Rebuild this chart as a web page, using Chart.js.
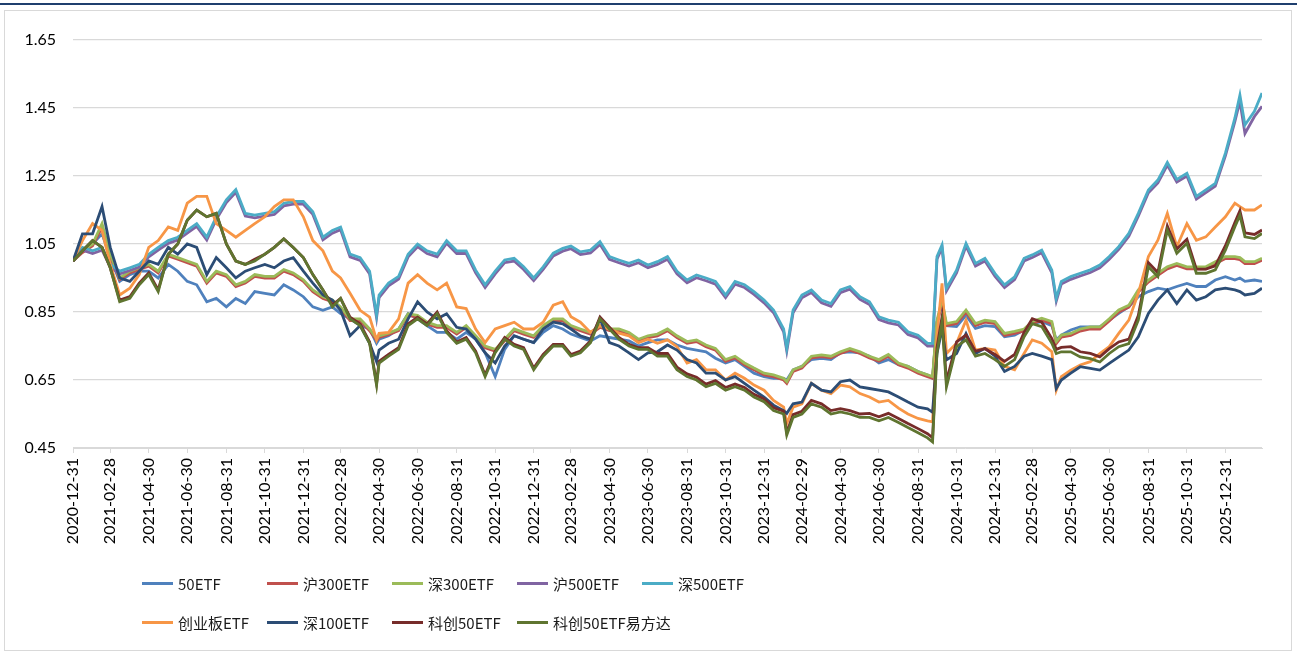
<!DOCTYPE html>
<html><head><meta charset="utf-8">
<script src="https://cdn.jsdelivr.net/npm/chart.js@4.4.0/dist/chart.umd.min.js"></script>
<style>
html,body{margin:0;padding:0;background:#fff;}
#wrap{position:relative;width:1297px;height:655px;overflow:hidden;}
#topline{position:absolute;left:0;top:3px;width:1297px;height:2px;background:#1f3f6e;}
#frame{position:absolute;left:4px;top:10px;width:1286px;height:639px;border:1.5px solid #d9d9d9;}
canvas{position:absolute;left:0;top:0;}
.leg{position:absolute;height:20px;display:flex;align-items:center;font:15px 'Noto Sans CJK SC','Noto Sans',sans-serif;color:#1a1a1a;white-space:nowrap;}
.sw{display:inline-block;width:31px;height:3px;margin-right:5px;}
</style></head>
<body>
<div id="wrap">
<div id="topline"></div>
<div id="frame"></div>
<canvas id="c" width="1297" height="655"></canvas>
<div id="legend"></div>
</div>
<script>
const dates = [
'2020-12-31',
'2021-01-15','2021-01-31','2021-02-15','2021-02-28','2021-03-15','2021-03-31','2021-04-15','2021-04-30','2021-05-15','2021-05-31','2021-06-15','2021-06-30','2021-07-15','2021-07-31','2021-08-15','2021-08-31','2021-09-15','2021-09-30','2021-10-15','2021-10-31','2021-11-15','2021-11-30','2021-12-15','2021-12-31',
'2022-01-15','2022-01-31','2022-02-15','2022-02-28','2022-03-15','2022-03-31','2022-04-15','2022-04-26','2022-04-30','2022-05-15','2022-05-31','2022-06-15','2022-06-30','2022-07-15','2022-07-31','2022-08-15','2022-08-31','2022-09-15','2022-09-30','2022-10-15','2022-10-31','2022-11-15','2022-11-30','2022-12-15','2022-12-31',
'2023-01-15','2023-01-31','2023-02-15','2023-02-28','2023-03-15','2023-03-31','2023-04-15','2023-04-30','2023-05-15','2023-05-31','2023-06-15','2023-06-30','2023-07-15','2023-07-31','2023-08-15','2023-08-31','2023-09-15','2023-09-30','2023-10-15','2023-10-31','2023-11-15','2023-11-30','2023-12-15','2023-12-31',
'2024-01-15','2024-01-31','2024-02-05','2024-02-15','2024-02-29','2024-03-15','2024-03-31','2024-04-15','2024-04-30','2024-05-15','2024-05-31','2024-06-15','2024-06-30','2024-07-15','2024-07-31','2024-08-15','2024-08-31','2024-09-15','2024-09-23','2024-09-30','2024-10-08','2024-10-15','2024-10-31','2024-11-15','2024-11-30','2024-12-15','2024-12-31',
'2025-01-15','2025-01-31','2025-02-15','2025-02-28','2025-03-15','2025-03-31','2025-04-07','2025-04-15','2025-04-30','2025-05-15','2025-05-31','2025-06-15','2025-06-30','2025-07-15','2025-07-31','2025-08-15','2025-08-31','2025-09-15','2025-09-30','2025-10-15','2025-10-31','2025-11-15','2025-11-30','2025-12-15','2025-12-31',
'2026-01-15','2026-01-23','2026-01-31','2026-02-15','2026-02-27'
];

const tickLabels = ['2020-12-31','2021-02-28','2021-04-30','2021-06-30','2021-08-31','2021-10-31','2021-12-31',
'2022-02-28','2022-04-30','2022-06-30','2022-08-31','2022-10-31','2022-12-31',
'2023-02-28','2023-04-30','2023-06-30','2023-08-31','2023-10-31','2023-12-31',
'2024-02-29','2024-04-30','2024-06-30','2024-08-31','2024-10-31','2024-12-31',
'2025-02-28','2025-04-30','2025-06-30','2025-08-31','2025-10-31','2025-12-31'];

const yTicks = [0.45, 0.65, 0.85, 1.05, 1.25, 1.45, 1.65];

const seriesNames = ['50ETF','沪300ETF','深300ETF','沪500ETF','深500ETF','创业板ETF','深100ETF','科创50ETF','科创50ETF易方达'];
const seriesColors = ['#4f81bd','#c0504d','#9bbb59','#8064a2','#4bacc6','#f79646','#2c4d75','#772c2a','#5f7530'];

const etf50 = [1.00,
1.03,1.05,1.08,1.01,0.94,0.96,0.97,0.97,0.95,0.99,0.97,0.94,0.93,0.88,0.89,0.865,0.89,0.875,0.91,0.905,0.90,0.93,0.915,0.895,
0.865,0.855,0.865,0.845,0.83,0.81,0.80,0.758,0.77,0.78,0.80,0.845,0.83,0.81,0.79,0.79,0.77,0.79,0.77,0.73,0.66,0.74,0.78,0.77,0.76,
0.79,0.81,0.80,0.785,0.775,0.765,0.78,0.775,0.77,0.765,0.75,0.76,0.768,0.768,0.753,0.743,0.738,0.733,0.714,0.70,0.71,0.69,0.67,0.66,
0.655,0.655,0.65,0.68,0.69,0.71,0.714,0.71,0.73,0.733,0.73,0.72,0.70,0.71,0.695,0.69,0.675,0.665,0.655,0.82,0.87,0.81,0.807,0.84,0.802,0.81,0.807,
0.777,0.782,0.797,0.816,0.822,0.81,0.768,0.782,0.797,0.806,0.806,0.806,0.826,0.846,0.866,0.895,0.91,0.92,0.915,0.925,0.934,0.925,0.925,0.944,0.954,
0.944,0.95,0.94,0.944,0.94];

const hu300 = [1.00,
1.025,1.045,1.10,1.015,0.945,0.965,0.975,0.985,0.965,1.015,1.005,0.995,0.985,0.935,0.965,0.955,0.925,0.935,0.955,0.95,0.95,0.97,0.96,0.94,
0.91,0.89,0.88,0.86,0.825,0.825,0.795,0.767,0.775,0.783,0.795,0.84,0.835,0.815,0.805,0.805,0.785,0.805,0.775,0.745,0.735,0.765,0.795,0.785,0.775,
0.805,0.825,0.825,0.805,0.795,0.785,0.805,0.795,0.795,0.785,0.765,0.775,0.78,0.795,0.775,0.758,0.763,0.748,0.738,0.705,0.715,0.695,0.68,0.665,
0.66,0.65,0.64,0.675,0.685,0.715,0.719,0.715,0.728,0.738,0.728,0.715,0.705,0.72,0.695,0.685,0.67,0.66,0.655,0.82,0.878,0.81,0.816,0.85,0.81,0.82,0.816,
0.781,0.787,0.794,0.816,0.826,0.816,0.757,0.776,0.781,0.794,0.80,0.80,0.824,0.85,0.864,0.909,0.938,0.958,0.977,0.987,0.977,0.977,0.977,0.992,1.007,
1.007,1.004,0.992,0.992,1.002];

const shen300 = [1.00,
1.03,1.05,1.11,1.02,0.95,0.97,0.98,0.99,0.97,1.02,1.01,1.00,0.99,0.94,0.97,0.96,0.93,0.94,0.96,0.955,0.955,0.975,0.965,0.945,
0.915,0.895,0.885,0.865,0.83,0.83,0.80,0.772,0.78,0.788,0.80,0.845,0.84,0.82,0.81,0.81,0.79,0.81,0.78,0.75,0.74,0.77,0.80,0.79,0.78,
0.81,0.83,0.83,0.81,0.80,0.79,0.81,0.80,0.80,0.79,0.77,0.78,0.785,0.80,0.78,0.763,0.768,0.753,0.743,0.71,0.72,0.70,0.685,0.67,
0.665,0.655,0.645,0.68,0.69,0.72,0.724,0.72,0.733,0.743,0.733,0.72,0.71,0.725,0.70,0.69,0.675,0.665,0.66,0.826,0.885,0.816,0.822,0.856,0.816,0.826,0.822,
0.787,0.793,0.80,0.822,0.832,0.822,0.763,0.782,0.787,0.80,0.806,0.806,0.83,0.856,0.87,0.915,0.944,0.964,0.983,0.993,0.983,0.983,0.983,0.998,1.013,
1.013,1.01,0.998,0.998,1.008];

const hu500 = [1.00,
1.032,1.022,1.032,0.982,0.962,0.972,0.982,1.012,1.032,1.052,1.062,1.082,1.102,1.062,1.122,1.172,1.202,1.132,1.127,1.132,1.137,1.162,1.167,1.167,
1.137,1.062,1.082,1.092,1.012,1.002,0.962,0.833,0.892,0.927,0.947,1.012,1.042,1.022,1.012,1.052,1.022,1.022,0.965,0.922,0.962,0.995,1.00,0.975,0.942,
0.975,1.015,1.029,1.036,1.019,1.024,1.049,1.005,0.995,0.985,0.995,0.98,0.99,1.005,0.962,0.936,0.951,0.942,0.932,0.892,0.932,0.922,0.902,0.877,
0.848,0.792,0.735,0.848,0.892,0.907,0.877,0.867,0.907,0.917,0.887,0.872,0.828,0.818,0.812,0.784,0.774,0.75,0.75,1.005,1.039,0.912,0.965,1.044,0.985,1.00,0.955,
0.922,0.945,1.00,1.01,1.024,0.965,0.882,0.932,0.946,0.956,0.966,0.98,1.005,1.034,1.073,1.132,1.201,1.23,1.282,1.232,1.25,1.182,1.201,1.22,1.309,
1.41,1.47,1.375,1.425,1.455];

const shen500 = [1.00,
1.04,1.03,1.04,0.99,0.97,0.98,0.99,1.02,1.04,1.06,1.07,1.09,1.11,1.07,1.13,1.18,1.21,1.14,1.135,1.14,1.145,1.17,1.175,1.175,
1.145,1.07,1.09,1.10,1.02,1.01,0.97,0.841,0.90,0.935,0.955,1.02,1.05,1.03,1.02,1.06,1.03,1.03,0.973,0.93,0.97,1.003,1.008,0.983,0.95,
0.983,1.023,1.037,1.044,1.027,1.032,1.057,1.013,1.003,0.993,1.003,0.988,0.998,1.013,0.97,0.944,0.959,0.95,0.94,0.90,0.94,0.93,0.91,0.885,
0.856,0.80,0.743,0.856,0.90,0.915,0.885,0.875,0.915,0.925,0.895,0.88,0.836,0.826,0.82,0.792,0.782,0.758,0.758,1.013,1.047,0.92,0.973,1.052,0.993,1.008,0.963,
0.93,0.953,1.008,1.018,1.032,0.973,0.89,0.94,0.954,0.964,0.974,0.988,1.013,1.042,1.081,1.14,1.209,1.238,1.29,1.24,1.258,1.19,1.209,1.228,1.317,
1.42,1.488,1.40,1.44,1.494];

const cyb = [1.00,
1.06,1.11,1.09,0.99,0.90,0.92,0.96,1.04,1.06,1.10,1.09,1.17,1.19,1.19,1.11,1.09,1.07,1.09,1.11,1.13,1.16,1.18,1.18,1.13,
1.06,1.03,0.97,0.95,0.905,0.855,0.835,0.768,0.787,0.79,0.83,0.935,0.96,0.935,0.915,0.935,0.865,0.86,0.80,0.76,0.80,0.81,0.82,0.80,0.80,
0.82,0.87,0.88,0.836,0.82,0.79,0.81,0.80,0.788,0.78,0.76,0.77,0.758,0.768,0.748,0.70,0.71,0.68,0.68,0.65,0.67,0.655,0.635,0.62,
0.59,0.57,0.522,0.57,0.58,0.64,0.62,0.61,0.635,0.63,0.61,0.60,0.585,0.59,0.567,0.55,0.537,0.53,0.527,0.78,0.934,0.728,0.758,0.826,0.738,0.743,0.738,
0.69,0.68,0.728,0.768,0.758,0.733,0.62,0.66,0.679,0.694,0.704,0.728,0.748,0.787,0.826,0.905,1.013,1.061,1.14,1.042,1.11,1.061,1.071,1.10,1.13,
1.17,1.16,1.15,1.15,1.165];

const shen100 = [1.00,
1.08,1.08,1.16,1.04,0.95,0.94,0.97,1.00,0.99,1.04,1.02,1.05,1.04,0.96,1.01,0.98,0.95,0.97,0.98,0.99,0.98,1.00,1.01,0.97,
0.935,0.90,0.885,0.855,0.78,0.81,0.758,0.704,0.738,0.758,0.77,0.83,0.88,0.85,0.83,0.845,0.805,0.80,0.77,0.73,0.70,0.75,0.78,0.77,0.76,
0.80,0.82,0.815,0.80,0.78,0.77,0.83,0.76,0.75,0.73,0.71,0.73,0.733,0.753,0.738,0.71,0.70,0.67,0.67,0.65,0.66,0.64,0.62,0.60,
0.576,0.56,0.552,0.58,0.585,0.64,0.62,0.615,0.645,0.65,0.63,0.625,0.62,0.615,0.60,0.585,0.57,0.565,0.555,0.728,0.80,0.709,0.728,0.787,0.728,0.743,0.72,
0.675,0.69,0.72,0.728,0.72,0.71,0.625,0.65,0.67,0.689,0.684,0.679,0.699,0.718,0.738,0.777,0.846,0.885,0.915,0.875,0.915,0.885,0.895,0.915,0.92,
0.915,0.91,0.90,0.905,0.92];

const kc50 = [1.00,
1.03,1.06,1.04,0.98,0.885,0.895,0.935,0.965,0.915,1.02,1.05,1.12,1.15,1.13,1.14,1.05,1.00,0.99,1.005,1.02,1.04,1.065,1.04,1.01,
0.96,0.915,0.87,0.89,0.835,0.815,0.762,0.64,0.705,0.725,0.745,0.815,0.835,0.815,0.85,0.795,0.762,0.775,0.735,0.665,0.735,0.775,0.755,0.745,0.685,
0.725,0.755,0.755,0.725,0.735,0.765,0.835,0.805,0.775,0.755,0.745,0.745,0.728,0.728,0.688,0.668,0.658,0.638,0.648,0.628,0.638,0.628,0.608,0.594,
0.568,0.558,0.495,0.548,0.558,0.59,0.58,0.56,0.566,0.56,0.55,0.552,0.542,0.552,0.537,0.522,0.507,0.492,0.48,0.745,0.835,0.645,0.762,0.782,0.735,0.742,0.725,
0.705,0.725,0.79,0.83,0.82,0.772,0.74,0.746,0.748,0.733,0.728,0.718,0.742,0.762,0.77,0.84,0.995,0.966,1.103,1.035,1.064,0.976,0.976,0.986,1.045,
1.113,1.148,1.083,1.078,1.091];

const kc50yfd = [1.00,
1.03,1.06,1.04,0.98,0.88,0.89,0.93,0.96,0.91,1.02,1.05,1.12,1.15,1.13,1.14,1.05,1.00,0.99,1.00,1.02,1.04,1.065,1.04,1.01,
0.96,0.915,0.865,0.89,0.83,0.81,0.758,0.635,0.70,0.72,0.74,0.81,0.83,0.81,0.845,0.79,0.758,0.77,0.73,0.66,0.73,0.77,0.75,0.74,0.68,
0.72,0.75,0.75,0.72,0.73,0.76,0.83,0.80,0.77,0.75,0.74,0.74,0.72,0.72,0.68,0.66,0.65,0.63,0.64,0.62,0.63,0.62,0.60,0.586,
0.56,0.55,0.488,0.54,0.55,0.58,0.57,0.55,0.556,0.55,0.54,0.54,0.53,0.54,0.525,0.51,0.495,0.48,0.468,0.73,0.82,0.63,0.748,0.768,0.72,0.728,0.71,
0.69,0.71,0.777,0.816,0.807,0.758,0.728,0.733,0.733,0.718,0.713,0.703,0.728,0.748,0.757,0.826,0.983,0.954,1.091,1.023,1.052,0.964,0.964,0.974,1.032,
1.101,1.135,1.071,1.066,1.081];

const seriesValues = [etf50, hu300, shen300, hu500, shen500, cyb, shen100, kc50, kc50yfd];

function dayOf(s){
  const p = s.split('-').map(Number);
  return Math.round((Date.UTC(p[0], p[1]-1, p[2]) - Date.UTC(2020, 11, 31)) / 86400000);
}

const datasets = seriesValues.map((vals, i) => ({
  label: seriesNames[i],
  data: dates.map((d, k) => ({x: dayOf(d), y: vals[k]})),
  borderColor: seriesColors[i],
  backgroundColor: seriesColors[i],
  borderWidth: 2.8,
  pointRadius: 0,
  tension: 0,
  order: seriesValues.length - 1 - i
}));

new Chart(document.getElementById('c'), {
  type: 'line',
  data: { datasets },
  options: {
    responsive: false,
    animation: false,
    devicePixelRatio: 1,
    layout: { padding: { left: 0, right: 35, top: 40, bottom: 0 } },
    plugins: { legend: { display: false }, tooltip: { enabled: false } },
    scales: {
      x: {
        type: 'linear',
        min: 0,
        max: dayOf(dates[dates.length - 1]),
        afterFit: (s) => { s.height = 207; },
        afterBuildTicks: (s) => { s.ticks = tickLabels.map(t => ({ value: dayOf(t) })); },
        grid: { display: true, drawOnChartArea: false, drawTicks: true, tickLength: 5, color: '#d9d9d9' },
        border: { display: true, color: '#d9d9d9', width: 1 },
        ticks: {
          autoSkip: false, maxRotation: 90, minRotation: 90, padding: 5,
          color: '#000', font: { family: 'Lato', size: 16 },
          callback: (v, idx) => tickLabels[idx]
        }
      },
      y: {
        min: 0.45, max: 1.65,
        afterFit: (s) => { s.width = 73; },
        afterBuildTicks: (s) => { s.ticks = yTicks.map(v => ({ value: v })); },
        grid: { color: '#d9d9d9', drawTicks: false, lineWidth: 1.3 },
        border: { display: false },
        ticks: {
          padding: 17, color: '#000', font: { family: 'Lato', size: 16 },
          callback: (v) => Number(v).toFixed(2)
        }
      }
    }
  }
});

// legend
const legPos = [[142,573],[267,573],[392,573],[517,573],[642,573],[142,612],[267,612],[392,612],[517,612]];
const leg = document.getElementById('legend');
seriesNames.forEach((n, i) => {
  const d = document.createElement('div');
  d.className = 'leg';
  d.style.left = legPos[i][0] + 'px';
  d.style.top = legPos[i][1] + 'px';
  d.innerHTML = '<span class="sw" style="background:' + seriesColors[i] + '"></span><span>' + n + '</span>';
  leg.appendChild(d);
});
</script>
</body></html>
